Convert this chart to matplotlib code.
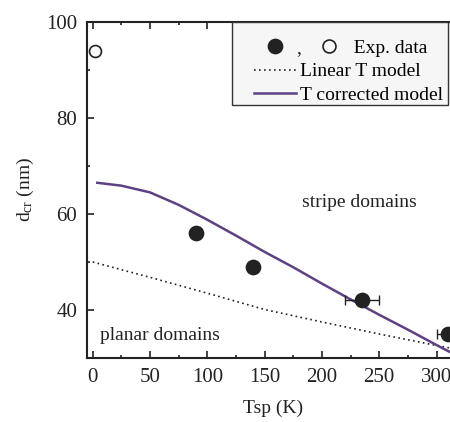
import matplotlib
matplotlib.use("Agg")
import matplotlib.pyplot as plt
from matplotlib.lines import Line2D
from matplotlib.text import Text
from matplotlib.patches import Rectangle
from matplotlib.legend_handler import HandlerBase
from matplotlib.ticker import MultipleLocator

plt.rcParams['font.family'] = ['Liberation Serif', 'DejaVu Sans']
plt.rcParams['mathtext.fontset'] = 'custom'
plt.rcParams['mathtext.rm'] = 'Liberation Serif'
plt.rcParams['mathtext.it'] = 'Liberation Serif:italic'

# experimental points
exp_T = [90, 140, 235, 310]
exp_d = [56, 49, 42, 35]
exp_Terr = [0, 0, 15, 10]
open_T = [2]
open_d = [94]

# linear T model (dotted)
lin_T = [0, 50, 100, 150, 200, 250, 300, 320]
lin_d = [50.0, 46.8, 43.5, 40.1, 37.5, 35.0, 32.6, 31.7]

# T corrected model (purple)
cor_T = [4, 25, 50, 75, 100, 125, 150, 175, 200, 225, 250, 275, 300, 320]
cor_d = [66.5, 65.9, 64.5, 61.9, 58.8, 55.5, 52.1, 48.9, 45.5, 42.2, 39.0, 35.9, 32.7, 30.2]

dark = '#222222'
purple = '#5c4282'


class ExpHandler(HandlerBase):
    # filled dot, comma, open dot  (the last two sit past the handle box)
    def create_artists(self, legend, orig_handle, xdescent, ydescent,
                       width, height, fontsize, trans):
        y = height / 2 - ydescent
        x0 = width / 2 - xdescent
        filled = Line2D([x0], [y], marker='o', ls='none', color=dark,
                        ms=10.3, transform=trans)
        comma = Text(width - xdescent + 0.1 * fontsize, y - 0.35 * fontsize, ',',
                     fontsize=fontsize, color=dark, ha='center', va='baseline',
                     transform=trans)
        opened = Line2D([width - xdescent + 1.7 * fontsize], [y], marker='o',
                        ls='none', ms=9.3, mfc='#f8f8f8', mec=dark, mew=1.2,
                        transform=trans)
        return [filled, comma, opened]


fig = plt.figure(figsize=(4.5, 4.22), dpi=100)
ax = fig.add_axes([0.1933, 0.1517, 0.8277, 0.7962])

ax.plot(lin_T, lin_d, linestyle=(0, (1, 2)), color=dark, lw=1.2)
ax.plot(cor_T, cor_d, color=purple, lw=1.8)
ax.errorbar(exp_T, exp_d, xerr=exp_Terr, fmt='o', color=dark, ms=10.3,
            elinewidth=1, capsize=3.5, capthick=1)
ax.plot(open_T, open_d, 'o', ms=8.6, mfc='#f8f8f8', mec=dark, mew=1.2)

ax.text(183, 62.4, 'stripe domains', fontsize=14, va='center', color=dark)
ax.text(6, 34.6, 'planar domains', fontsize=14, va='center', color=dark)

ax.set_xlim(-5, 320)
ax.set_ylim(30, 100)
ax.xaxis.set_minor_locator(MultipleLocator(25))
ax.yaxis.set_major_locator(MultipleLocator(20))
ax.yaxis.set_minor_locator(MultipleLocator(10))
ax.set_xticks([0, 50, 100, 150, 200, 250, 300])
ax.tick_params(which='both', direction='in', top=True, right=False,
               width=1.2, color=dark, labelsize=15, labelcolor=dark)
ax.tick_params(which='major', length=5)
ax.tick_params(which='minor', length=2.5)
ax.tick_params(axis='x', pad=7)
ax.tick_params(axis='y', pad=7)
for s in ax.spines.values():
    s.set_linewidth(1.5)
    s.set_color(dark)

ax.set_xlabel('Tsp (K)', fontsize=14, color=dark, labelpad=9)
ax.set_ylabel(r'd$_{\mathrm{cr}}$ (nm)', fontsize=14, color=dark, labelpad=7)

# legend frame (Origin-like box, uneven padding)
ax.add_patch(Rectangle((232 / 450, 1 - 105 / 422), 216 / 450, 83 / 422,
                       transform=fig.transFigure, clip_on=False,
                       facecolor='#f6f6f6', edgecolor='#333333', lw=1.0,
                       zorder=4.5))

exp_handle = object()
handles = [
    exp_handle,
    Line2D([], [], linestyle=(0, (1, 2)), color=dark, lw=1.2),
    Line2D([], [], color=purple, lw=1.8),
]
labels = ['           Exp. data', 'Linear T model', 'T corrected model']
leg = ax.legend(handles, labels, loc='upper right',
                bbox_to_anchor=(451 / 450, 1 - 31.5 / 422),
                bbox_transform=fig.transFigure, borderaxespad=0,
                fontsize=14, frameon=False,
                handlelength=2.2, handletextpad=0.2, labelspacing=0.3,
                borderpad=0.4, handler_map={exp_handle: ExpHandler()})
leg.set_zorder(5)

fig.savefig('out.png', dpi=100)
